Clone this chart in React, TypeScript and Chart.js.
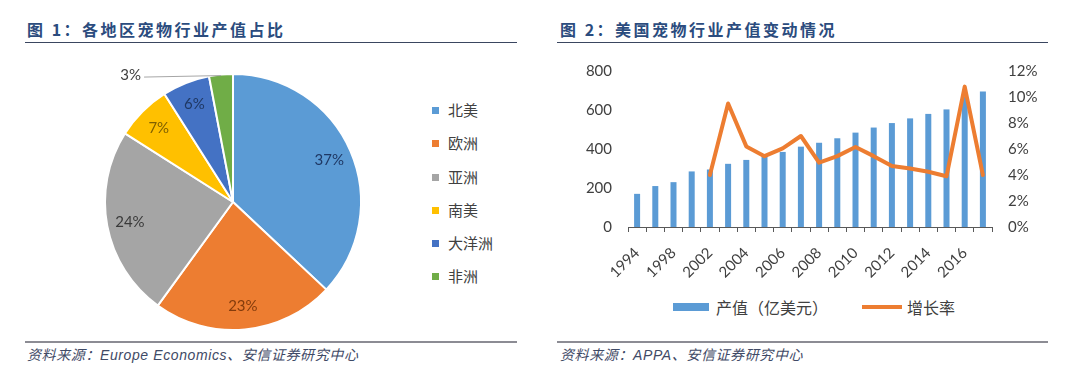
import React, { useEffect, useRef } from 'react';
import { Chart, registerables } from 'chart.js';

Chart.register(...registerables);

// ---------- Data: Figure 1 (pie) ----------
const regions = ['北美', '欧洲', '亚洲', '南美', '大洋洲', '非洲'];
const regionShares = [37, 23, 24, 7, 6, 3];

// ---------- Data: Figure 2 (bar + line) ----------
const years = ['1994', '1996', '1998', '2001', '2002', '2003', '2004', '2005', '2006', '2007',
  '2008', '2009', '2010', '2011', '2012', '2013', '2014', '2015', '2016', '2017'];
const outputValues = [170, 210, 230, 285, 295, 324, 344, 363, 385, 412,
  432, 455, 484, 510, 533, 557, 580, 603, 667, 695];
const growthRates = [null, null, null, null, 4.0, 9.5, 6.2, 5.45, 6.05, 7.0,
  4.95, 5.45, 6.15, 5.45, 4.7, 4.5, 4.25, 3.9, 10.8, 4.0];
const shownYearLabels = ['1994', '1998', '2002', '2004', '2006', '2008', '2010', '2012', '2014', '2016'];
const seriesNames = ['产值（亿美元）', '增长率'];

// ---------- Styles ----------
const pieColors = ['#5B9BD5', '#ED7D31', '#A5A5A5', '#FFC000', '#4472C4', '#70AD47'];
const pieLabelColors = ['#1F3864', '#843C0C', '#3A3A3A', '#7F6000', '#1F3864', '#404040'];
const BAR_COLOR = '#5B9BD5';
const LINE_COLOR = '#ED7D31';
const TITLE_COLOR = '#2B4C7E';
const SOURCE_COLOR = '#3F4A66';
const AXIS_TEXT = '#404040';
const CJK = "'Noto Sans CJK SC', sans-serif";

function PieChart() {
  const ref = useRef<HTMLCanvasElement>(null);
  useEffect(() => {
    if (!ref.current) return;
    const labelPlugin = {
      id: 'pieLabels',
      afterDatasetsDraw(chart: any) {
        const ctx = chart.ctx;
        const meta = chart.getDatasetMeta(0);
        meta.data.forEach((arc: any, i: number) => {
          const p = arc.getProps(['x', 'y', 'startAngle', 'endAngle', 'outerRadius'], true);
          const mid = (p.startAngle + p.endAngle) / 2;
          const text = regionShares[i] + '%';
          ctx.save();
          ctx.font = '15px Lato';
          ctx.textBaseline = 'middle';
          if (i === regionShares.length - 1) {
            const px = p.x + Math.cos(mid) * (p.outerRadius - 1);
            const py = p.y + Math.sin(mid) * (p.outerRadius - 1);
            ctx.strokeStyle = '#A6A6A6';
            ctx.lineWidth = 1;
            ctx.beginPath();
            ctx.moveTo(px, py);
            ctx.lineTo(px - 77, py + 1.5);
            ctx.stroke();
            ctx.textAlign = 'right';
            ctx.fillStyle = '#404040';
            ctx.fillText(text, px - 80, py);
          } else {
            const r = p.outerRadius * 0.82;
            ctx.textAlign = 'center';
            ctx.fillStyle = pieLabelColors[i];
            ctx.fillText(text, p.x + Math.cos(mid) * r, p.y + Math.sin(mid) * r);
          }
          ctx.restore();
        });
      },
    };
    const chart = new Chart(ref.current, {
      type: 'pie',
      data: {
        labels: regions,
        datasets: [{
          data: regionShares,
          backgroundColor: pieColors,
          borderColor: '#FFFFFF',
          borderWidth: 2,
        }],
      },
      options: {
        responsive: false,
        animation: false,
        layout: { padding: 11 },
        plugins: { legend: { display: false }, tooltip: { enabled: false } },
      },
      plugins: [labelPlugin],
    } as any);
    return () => chart.destroy();
  }, []);
  return (
    <canvas ref={ref} width={280} height={280}
      style={{ position: 'absolute', left: 93, top: 62, width: 280, height: 280 }} />
  );
}

function ComboChart() {
  const ref = useRef<HTMLCanvasElement>(null);
  useEffect(() => {
    if (!ref.current) return;
    const tickFont = { family: 'Lato', size: 15 };
    const chart = new Chart(ref.current, {
      type: 'bar',
      data: {
        labels: years,
        datasets: [
          {
            type: 'bar',
            label: seriesNames[0],
            data: outputValues,
            backgroundColor: BAR_COLOR,
            yAxisID: 'y',
            order: 2,
            barPercentage: 0.33,
            categoryPercentage: 1,
          },
          {
            type: 'line',
            label: seriesNames[1],
            data: growthRates,
            borderColor: LINE_COLOR,
            backgroundColor: LINE_COLOR,
            borderWidth: 4,
            pointRadius: 0,
            yAxisID: 'y1',
            order: 1,
            tension: 0,
            borderJoinStyle: 'round',
            borderCapStyle: 'round',
          },
        ],
      },
      options: {
        responsive: false,
        animation: false,
        layout: { padding: { left: 20, right: 0, top: 11, bottom: 0 } },
        plugins: {
          tooltip: { enabled: false },
          legend: { display: false },
        },
        scales: {
          x: {
            offset: true,
            grid: { display: true, drawOnChartArea: false, drawTicks: true, tickLength: 5, color: '#595959', offset: true },
            border: { display: true, color: '#595959', width: 1 },
            ticks: {
              autoSkip: false,
              minRotation: 45,
              maxRotation: 45,
              padding: 12,
              color: AXIS_TEXT,
              font: tickFont,
              callback: (_v: any, i: number) => (shownYearLabels.includes(years[i]) ? years[i] : ''),
            },
            afterFit: (s: any) => { s.height = 60; },
          },
          y: {
            position: 'left',
            min: 0,
            max: 800,
            grid: { display: false, drawTicks: true, tickLength: 16 },
            border: { display: false },
            ticks: { stepSize: 200, padding: 0, color: AXIS_TEXT, font: tickFont },
            afterFit: (s: any) => { s.width = 48; },
          },
          y1: {
            position: 'right',
            min: 0,
            max: 12,
            grid: { display: false, drawTicks: true, tickLength: 16 },
            border: { display: false },
            ticks: { stepSize: 2, padding: 0, color: AXIS_TEXT, font: tickFont, callback: (v: any) => v + '%' },
            afterFit: (s: any) => { s.width = 58; },
          },
        },
      },
    } as any);
    return () => chart.destroy();
  }, []);
  return (
    <canvas ref={ref} width={490} height={227}
      style={{ position: 'absolute', left: 560, top: 60, width: 490, height: 227 }} />
  );
}

function ComboLegend() {
  const textStyle: React.CSSProperties = {
    position: 'absolute', top: 297, height: 20, lineHeight: '20px', whiteSpace: 'nowrap',
    fontFamily: CJK, fontSize: 16, color: AXIS_TEXT,
  };
  return (
    <>
      <div style={{ position: 'absolute', left: 673, top: 303, width: 36, height: 8, background: BAR_COLOR }} />
      <div style={{ ...textStyle, left: 716 }}>{seriesNames[0]}</div>
      <div style={{ position: 'absolute', left: 862, top: 305, width: 40, height: 4, background: LINE_COLOR }} />
      <div style={{ ...textStyle, left: 907 }}>{seriesNames[1]}</div>
    </>
  );
}

const legendRowsY = [110, 143, 177, 210, 243, 276];

function PieLegend() {
  return (
    <>
      {regions.map((name, i) => (
        <React.Fragment key={name}>
          <div style={{ position: 'absolute', left: 432, top: legendRowsY[i] - 3.5, width: 7, height: 7, background: pieColors[i] }} />
          <div style={{
            position: 'absolute', left: 448, top: legendRowsY[i] - 10, height: 20, lineHeight: '20px',
            fontFamily: CJK, fontSize: 15, color: AXIS_TEXT, whiteSpace: 'nowrap',
          }}>{name}</div>
        </React.Fragment>
      ))}
    </>
  );
}

function Title({ left, num, text }: { left: number; num: string; text: string }) {
  return (
    <div style={{
      position: 'absolute', left, top: 19, height: 20, lineHeight: '20px', whiteSpace: 'nowrap',
      fontFamily: CJK, fontWeight: 'bold', fontSize: 16, letterSpacing: '2.5px', color: TITLE_COLOR,
    }}>{'图 ' + num + '：' + text}</div>
  );
}

function Source({ left, text }: { left: number; text: string }) {
  return (
    <div style={{
      position: 'absolute', left, top: 346, height: 18, lineHeight: '18px', whiteSpace: 'nowrap',
      fontFamily: "'Liberation Sans', 'Noto Sans CJK SC', sans-serif", fontStyle: 'italic', fontSize: 14, letterSpacing: '0.6px', color: SOURCE_COLOR,
    }}>{text}</div>
  );
}

export default function App() {
  return (
    <div style={{ position: 'absolute', left: 0, top: 0, width: 1080, height: 374, background: '#FFFFFF', overflow: 'hidden' }}>
      <Title left={27} num="1" text="各地区宠物行业产值占比" />
      <Title left={560} num="2" text="美国宠物行业产值变动情况" />
      <div style={{ position: 'absolute', left: 25, top: 42, width: 492, height: 1, background: '#3A4660' }} />
      <div style={{ position: 'absolute', left: 557, top: 42, width: 491, height: 1, background: '#3A4660' }} />
      <PieChart />
      <PieLegend />
      <ComboChart />
      <ComboLegend />
      <div style={{ position: 'absolute', left: 25, top: 341, width: 492, height: 2, background: '#8C8C94' }} />
      <div style={{ position: 'absolute', left: 557, top: 341, width: 491, height: 2, background: '#8C8C94' }} />
      <Source left={27} text="资料来源：Europe Economics、安信证券研究中心" />
      <Source left={560} text="资料来源：APPA、安信证券研究中心" />
    </div>
  );
}
